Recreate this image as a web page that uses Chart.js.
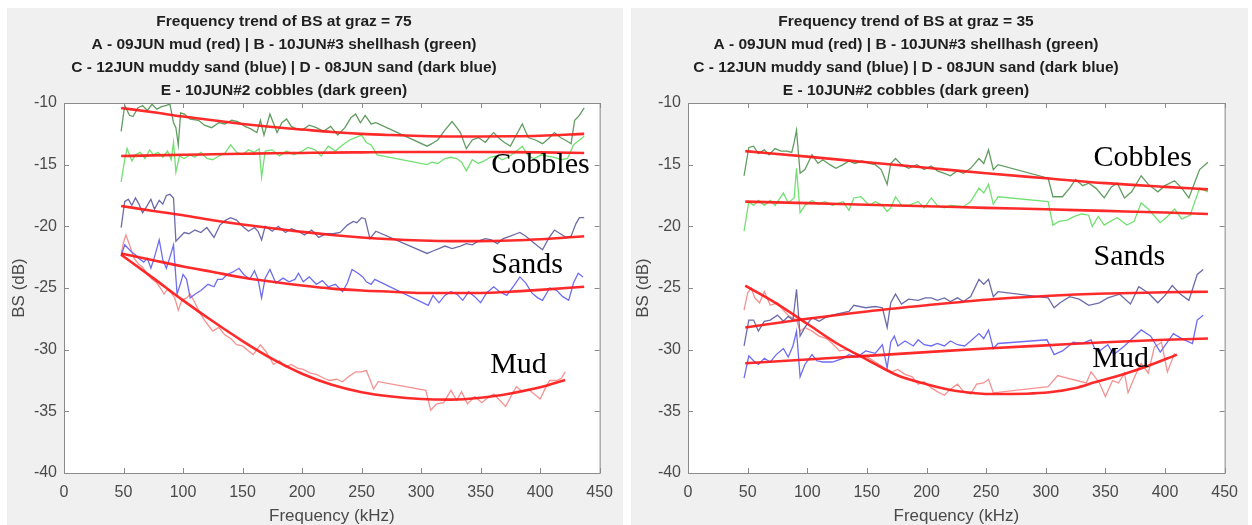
<!DOCTYPE html>
<html>
<head>
<meta charset="utf-8">
<script src="https://cdn.jsdelivr.net/npm/chart.js@4.4.1/dist/chart.umd.min.js"></script>
<style>
  body { margin: 0; background: #fff; width: 1252px; height: 525px; position: relative; overflow: hidden; }
  canvas { position: absolute; top: 8px; }
  #chart75 { left: 7px; }
  #chart35 { left: 631px; }
</style>
</head>
<body>
<canvas id="chart75" width="616" height="517"></canvas>
<canvas id="chart35" width="617" height="517"></canvas>
<script>
// ---- graz = 75 : measured BS (dB) vs frequency (kHz) ----
const f75_E = [48,51,55,58,62,66,70,74,78,82,86,89,92,94,96,98,101,106,113,118,124,130,135,141,146,152,157,162,165,168,173,179,183,187,191,195,200,206,212,218,224,230,236,241,245,249,253,258,262,305,309,314,320,326,330,333,338,343,348,354,358,361,366,370,375,380,385,390,396,402,407,412,417,421,426,429,433,437];
const bs75_E = [-12.3,-10.2,-11.0,-11.1,-10.4,-10.2,-10.6,-10.1,-10.5,-10.3,-10.2,-10.1,-11.6,-12.0,-13.4,-10.8,-10.9,-11.3,-11.4,-11.8,-12.0,-11.6,-11.7,-11.4,-11.5,-11.9,-12.1,-12.4,-11.4,-12.6,-10.9,-12.4,-11.6,-11.3,-11.9,-12.1,-12.2,-11.8,-12.0,-12.3,-11.9,-12.6,-12.0,-11.2,-10.9,-11.6,-11.0,-11.7,-11.6,-13.5,-13.3,-13.0,-12.2,-11.5,-12.0,-12.4,-13.7,-13.0,-12.8,-13.2,-12.7,-12.4,-12.9,-13.2,-13.5,-12.6,-11.7,-12.8,-13.0,-13.3,-12.9,-12.4,-12.8,-13.0,-13.3,-11.4,-11.0,-10.4];

const f75_B = [48,51,53,57,60,64,68,72,75,79,83,87,90,92,94,97,101,106,110,115,120,125,130,135,140,145,150,155,160,164,166,169,175,181,187,193,200,205,211,216,222,228,234,240,245,250,254,258,263,305,309,314,320,325,330,334,338,343,348,353,358,363,368,373,379,385,390,395,401,406,412,418,423,428,433,437];
const bs75_B = [-16.4,-14.6,-13.7,-14.7,-14.2,-14.0,-14.5,-13.8,-14.2,-14.0,-14.4,-13.9,-14.6,-13.2,-15.6,-14.3,-14.5,-14.2,-14.4,-14.0,-14.5,-14.6,-14.3,-14.1,-13.4,-14.0,-14.2,-13.8,-14.0,-13.7,-16.0,-13.9,-13.8,-14.3,-13.9,-14.2,-13.9,-13.6,-13.8,-14.3,-13.5,-13.9,-13.4,-13.0,-12.8,-12.6,-13.2,-13.4,-14.2,-15.0,-14.8,-14.9,-14.5,-14.4,-14.5,-14.8,-15.5,-14.6,-14.9,-14.7,-14.4,-14.3,-14.6,-14.4,-14.0,-13.5,-14.3,-14.5,-14.2,-14.3,-14.4,-14.6,-14.5,-13.4,-13.0,-12.7];

const f75_D = [48,51,54,57,60,63,66,70,73,76,80,83,86,89,92,94,97,101,105,110,115,120,126,131,136,140,145,150,155,160,163,166,169,175,180,186,191,197,202,208,214,220,226,232,238,243,246,250,253,257,262,305,310,315,320,326,333,338,343,348,354,359,364,369,375,380,383,388,393,398,402,407,412,417,422,426,430,433,437];
const bs75_D = [-20.1,-18.0,-17.8,-18.3,-17.7,-18.2,-18.9,-18.3,-17.8,-18.6,-17.9,-18.2,-17.5,-17.4,-17.7,-21.2,-20.9,-20.5,-20.6,-20.3,-20.5,-20.1,-20.9,-19.9,-19.5,-19.3,-19.5,-20.0,-20.4,-20.1,-20.4,-21.1,-20.0,-20.4,-20.0,-20.5,-20.2,-20.4,-20.7,-20.3,-20.9,-20.6,-20.6,-20.5,-19.9,-19.6,-19.7,-19.3,-19.4,-21.0,-20.4,-22.2,-22.0,-21.8,-21.6,-21.8,-21.6,-21.4,-21.5,-21.2,-21.0,-21.1,-21.4,-21.0,-20.8,-20.6,-20.5,-20.8,-21.2,-21.6,-21.9,-21.0,-20.3,-20.6,-20.9,-20.8,-19.8,-19.3,-19.3];

const f75_C = [48,51,54,57,60,63,67,70,73,76,80,83,86,89,92,95,98,100,103,106,110,115,121,126,129,133,137,142,147,151,156,160,163,166,169,173,178,184,189,194,197,201,206,212,217,222,228,234,238,242,247,251,254,258,261,306,310,315,320,325,330,335,340,345,350,355,361,366,372,378,383,388,393,398,402,408,414,419,424,428,432,436];
const bs75_C = [-22.4,-21.5,-21.8,-22.1,-22.3,-22.6,-22.9,-22.6,-23.4,-22.5,-21.1,-22.7,-23.4,-22.5,-21.5,-25.5,-24.6,-23.9,-24.3,-25.8,-25.5,-25.2,-24.7,-24.9,-24.3,-24.3,-23.9,-23.7,-23.4,-23.9,-24.3,-23.6,-24.3,-25.8,-24.2,-23.5,-24.6,-24.2,-24.5,-24.3,-23.8,-24.5,-24.1,-24.7,-24.4,-24.9,-24.7,-25.3,-24.6,-23.5,-23.8,-24.1,-24.5,-24.7,-24.3,-26.4,-25.6,-26.2,-25.6,-25.3,-25.5,-26.0,-25.3,-25.7,-26.2,-25.4,-24.9,-25.3,-25.6,-24.8,-24.1,-24.6,-25.4,-25.8,-26.0,-25.0,-25.2,-25.7,-26.0,-24.6,-23.8,-24.1];

const f75_A = [48,50,52,55,59,63,66,70,74,78,81,84,87,90,93,96,99,103,106,110,114,118,121,125,130,135,140,145,150,155,159,165,170,176,181,186,191,196,201,207,212,218,223,229,234,239,245,250,254,257,260,264,304,308,313,319,325,330,334,339,345,351,356,361,366,371,376,380,385,390,395,400,404,408,414,418,421];
const bs75_A = [-22.3,-21.3,-20.7,-21.5,-22.6,-23.1,-23.3,-23.9,-24.3,-24.6,-25.0,-25.5,-25.1,-25.4,-25.8,-26.8,-26.0,-25.8,-25.5,-26.2,-27.0,-27.6,-28.0,-28.5,-28.2,-28.8,-29.1,-29.6,-29.7,-30.1,-30.4,-29.6,-30.2,-31.2,-30.9,-31.4,-31.2,-31.5,-31.6,-31.9,-32.0,-32.3,-32.5,-32.4,-32.6,-32.2,-31.8,-31.8,-31.7,-32.4,-33.2,-32.6,-33.3,-34.9,-34.4,-34.3,-33.3,-34.1,-33.4,-34.4,-33.8,-34.3,-33.9,-33.6,-34.1,-34.6,-33.7,-33.0,-33.4,-33.2,-33.6,-34.0,-33.2,-32.5,-32.5,-32.3,-31.8];

// fitted trends, graz = 75
const fitF75 = [48,75,100,125,150,175,200,225,250,275,300,325,350,375,400,437];
const fit75_E = [-10.4,-10.75,-11.1,-11.4,-11.7,-11.95,-12.15,-12.35,-12.5,-12.6,-12.68,-12.72,-12.72,-12.7,-12.65,-12.5];
const fit75_B = [-14.3,-14.25,-14.2,-14.16,-14.12,-14.08,-14.05,-14.02,-14.0,-13.98,-13.97,-13.97,-13.97,-13.98,-14.0,-14.05];
const fit75_D = [-18.35,-18.75,-19.1,-19.5,-19.85,-20.15,-20.45,-20.7,-20.9,-21.05,-21.15,-21.2,-21.2,-21.15,-21.05,-20.8];
const fit75_C = [-22.2,-22.75,-23.25,-23.7,-24.15,-24.5,-24.8,-25.05,-25.2,-25.3,-25.4,-25.4,-25.4,-25.3,-25.15,-24.9];
const fitF75_A = [48,75,100,125,150,175,200,225,250,275,300,325,350,375,400,421];
const fit75_A = [-22.3,-24.2,-26.0,-27.7,-29.3,-30.75,-31.95,-32.85,-33.45,-33.8,-34.0,-34.05,-33.9,-33.55,-33.05,-32.45];

// ---- graz = 35 ----
const f35_E = [47,51,55,59,64,68,73,78,83,87,89,91,94,98,104,109,113,119,124,130,135,140,146,152,157,162,167,170,174,179,185,192,198,204,209,215,220,226,231,237,244,248,252,256,260,302,306,314,320,325,331,336,342,349,355,360,366,372,380,386,394,400,408,414,420,429,436];
const bs35_E = [-15.9,-13.6,-13.5,-14.1,-13.8,-14.2,-13.7,-13.9,-13.9,-14.0,-13.2,-12.2,-15.7,-15.4,-14.2,-14.9,-14.6,-15.0,-15.3,-15.0,-14.7,-14.9,-14.7,-14.9,-15.0,-15.4,-16.6,-14.9,-14.5,-15.0,-15.3,-15.0,-15.4,-15.1,-15.5,-15.7,-15.9,-15.5,-15.7,-15.3,-14.5,-14.9,-13.8,-15.4,-15.0,-16.1,-17.6,-17.6,-16.9,-16.2,-16.7,-16.5,-16.9,-17.7,-16.8,-16.5,-17.7,-17.2,-15.9,-16.6,-17.2,-16.7,-16.3,-16.9,-17.7,-15.4,-14.8];

const f35_B = [47,51,55,59,64,69,73,80,84,89,91,94,98,104,109,115,121,130,135,139,145,152,157,163,167,170,174,179,185,193,198,204,209,215,220,231,237,244,248,252,256,260,302,306,311,318,324,330,336,339,344,349,354,360,368,374,380,386,396,402,408,414,421,429,436];
const bs35_B = [-20.4,-18.0,-18.3,-17.9,-18.3,-17.9,-18.3,-17.3,-18.1,-17.7,-15.3,-18.9,-18.3,-17.9,-18.2,-18.0,-18.3,-18.0,-18.7,-17.7,-17.6,-18.3,-18.0,-18.3,-18.8,-18.5,-17.6,-18.3,-18.3,-18.0,-18.5,-17.7,-18.3,-18.5,-18.3,-18.4,-18.0,-16.9,-17.3,-16.6,-18.2,-17.6,-18.0,-19.9,-19.6,-19.5,-19.2,-19.0,-19.1,-20.0,-19.2,-19.9,-19.6,-19.3,-19.9,-19.6,-18.1,-18.6,-19.7,-19.2,-18.6,-19.4,-19.1,-16.9,-17.2];

const f35_D = [47,51,55,59,64,69,75,80,84,88,91,94,98,104,110,115,121,130,135,139,149,157,163,167,170,174,179,185,193,199,204,209,215,220,226,231,237,244,248,252,256,260,302,307,312,320,328,336,345,352,362,371,378,386,394,400,406,413,420,427,432];
const bs35_D = [-29.7,-27.6,-27.6,-28.5,-27.7,-27.6,-27.2,-27.7,-27.3,-27.6,-25.1,-28.9,-28.2,-27.4,-27.7,-27.4,-27.2,-27.0,-26.9,-26.4,-26.6,-26.5,-26.6,-28.2,-26.2,-25.5,-26.3,-25.9,-26.0,-25.8,-25.8,-26.0,-25.8,-26.1,-25.8,-26.1,-25.7,-24.3,-24.7,-24.3,-25.7,-25.3,-25.8,-26.6,-26.2,-25.7,-25.9,-26.4,-26.2,-25.8,-25.5,-26.3,-24.9,-25.4,-26.2,-25.6,-24.8,-25.5,-26.0,-23.9,-23.5];

const f35_C = [47,51,55,59,64,69,74,80,84,88,91,94,98,104,108,113,121,130,135,142,149,157,163,167,170,173,176,182,189,193,198,204,209,215,220,226,232,237,244,248,252,256,260,301,307,314,323,330,338,341,345,352,357,366,380,388,396,407,414,423,427,432];
const bs35_C = [-32.3,-30.5,-30.9,-31.2,-30.7,-31.0,-30.4,-29.9,-30.6,-29.7,-28.5,-32.2,-31.2,-30.4,-30.9,-31.0,-31.0,-30.7,-30.4,-30.6,-30.1,-30.3,-29.6,-31.5,-29.4,-28.9,-29.7,-29.3,-29.7,-29.2,-29.6,-29.7,-29.5,-29.7,-29.3,-29.6,-29.7,-29.3,-28.7,-29.1,-28.4,-29.9,-29.5,-29.2,-30.4,-30.1,-29.4,-29.5,-29.2,-29.9,-30.1,-29.6,-30.4,-29.7,-28.4,-28.9,-30.2,-28.7,-29.1,-29.5,-27.6,-27.2];

const f35_A = [47,50,53,56,60,64,69,75,80,85,91,94,98,104,110,116,121,127,134,139,143,149,157,165,171,176,182,188,193,198,204,209,215,220,226,231,237,242,248,252,256,302,310,318,326,334,338,345,350,356,361,366,369,375,380,386,391,397,402,408];
const bs35_A = [-26.8,-25.4,-25.0,-25.8,-26.2,-25.3,-26.4,-26.2,-26.8,-27.3,-27.6,-28.5,-28.2,-28.5,-28.9,-29.1,-29.5,-30.1,-30.0,-30.3,-30.4,-30.5,-31.0,-31.5,-31.8,-31.6,-32.0,-32.2,-32.8,-32.6,-33.1,-33.4,-33.7,-33.2,-32.8,-33.4,-33.6,-32.8,-32.7,-32.4,-33.5,-33.0,-32.1,-32.3,-32.5,-32.7,-31.8,-32.7,-33.8,-32.5,-32.7,-31.9,-33.5,-32.1,-31.1,-31.9,-29.8,-29.4,-31.8,-30.3];

// fitted trends, graz = 35
const fitF35 = [48,100,150,200,250,300,350,400,436];
const fit35_E = [-13.9,-14.35,-14.8,-15.25,-15.7,-16.1,-16.5,-16.8,-17.0];
const fit35_B = [-18.0,-18.12,-18.25,-18.37,-18.5,-18.62,-18.75,-18.88,-19.0];
const fit35_D = [-28.2,-27.5,-26.9,-26.4,-25.95,-25.65,-25.45,-25.35,-25.3];
const fit35_C = [-31.1,-30.8,-30.5,-30.2,-29.9,-29.65,-29.4,-29.2,-29.1];
const fitF35_A = [48,75,100,125,150,175,200,225,257,303,325,341,365,385,410];
const fit35_A = [-24.8,-26.3,-27.9,-29.5,-30.8,-32.05,-32.8,-33.35,-33.6,-33.45,-33.1,-32.65,-32.0,-31.35,-30.4];

const titleLines = (graz) => [
  'Frequency trend of BS at graz = ' + graz,
  'A - 09JUN mud (red) | B - 10JUN#3 shellhash (green)',
  'C - 12JUN muddy sand (blue) | D - 08JUN sand (dark blue)',
  'E - 10JUN#2 cobbles (dark green)'
];

const COL = {
  A: 'rgba(240,110,110,0.75)',
  B: '#72e072',
  C: '#6d6df2',
  D: '#6c6cab',
  E: '#619c61',
  fit: 'rgba(255,20,20,0.9)'
};

function pts(freq, bs) {
  return freq.map((f, i) => ({ x: f, y: bs[i] }));
}

function raw(freq, bs, color) {
  return { data: pts(freq, bs), borderColor: color, borderWidth: 1.3, pointRadius: 0, tension: 0, order: 2 };
}
function fit(freq, bs) {
  return { data: pts(freq, bs), borderColor: COL.fit, borderWidth: 2.6, pointRadius: 0, cubicInterpolationMode: 'monotone', order: 1 };
}

// grey figure, white axes, boxed axes with inward ticks, title block and the sediment labels
const matlabAxes = {
  id: 'matlabAxes',
  beforeDraw(chart, args, opts) {
    const ctx = chart.ctx, a = chart.chartArea;
    ctx.save();
    ctx.fillStyle = '#f0f0f0';
    ctx.fillRect(0, 0, chart.width, chart.height);
    ctx.fillStyle = '#ffffff';
    ctx.fillRect(a.left, a.top, a.right - a.left, a.bottom - a.top);

    // title, centred a little left of the axes like the original figure
    ctx.fillStyle = '#1f1f1f';
    ctx.font = 'bold 15.5px "Liberation Sans", Arial, sans-serif';
    ctx.textAlign = 'center';
    ctx.textBaseline = 'middle';
    (opts.title || []).forEach((line, i) => {
      ctx.fillText(line, opts.titleX, 14 + i * 22.9);
    });
    ctx.restore();
  },
  afterDatasetsDraw(chart, args, opts) {
    const ctx = chart.ctx, a = chart.chartArea;
    const xs = chart.scales.x, ys = chart.scales.y;
    ctx.save();
    ctx.strokeStyle = '#8a8a8a';
    ctx.lineWidth = 1;
    ctx.strokeRect(a.left + 0.5, a.top + 0.5, a.right - a.left, a.bottom - a.top);
    ctx.beginPath();
    xs.ticks.forEach(t => {
      const px = Math.round(xs.getPixelForValue(t.value)) + 0.5;
      ctx.moveTo(px, a.bottom); ctx.lineTo(px, a.bottom - 5);
      ctx.moveTo(px, a.top); ctx.lineTo(px, a.top + 5);
    });
    ys.ticks.forEach(t => {
      const py = Math.round(ys.getPixelForValue(t.value)) + 0.5;
      ctx.moveTo(a.left, py); ctx.lineTo(a.left + 5, py);
      ctx.moveTo(a.right, py); ctx.lineTo(a.right - 5, py);
    });
    ctx.stroke();

    ctx.fillStyle = '#000';
    ctx.font = '30px "Liberation Serif", "Times New Roman", serif';
    ctx.textBaseline = 'alphabetic';
    ctx.textAlign = 'left';
    (opts.labels || []).forEach(l => {
      ctx.fillText(l.text, xs.getPixelForValue(l.x), ys.getPixelForValue(l.y));
    });
    ctx.restore();
  }
};

function makeChart(id, graz, datasets, labels, titleX) {
  return new Chart(document.getElementById(id), {
    type: 'line',
    data: { datasets },
    plugins: [matlabAxes],
    options: {
      responsive: false,
      animation: false,
      events: [],
      layout: { padding: { left: 0, right: 15, top: 95, bottom: 0 } },
      plugins: {
        legend: { display: false },
        tooltip: { enabled: false },
        title: { display: false },
        matlabAxes: { labels, title: titleLines(graz), titleX }
      },
      scales: {
        x: {
          type: 'linear', min: 0, max: 450,
          grid: { display: false, drawTicks: false },
          border: { display: false },
          ticks: { stepSize: 50, padding: 10, color: '#4a4a4a', font: { family: 'Liberation Sans', size: 16 } },
          title: { display: true, text: 'Frequency (kHz)', color: '#4a4a4a', padding: 0,
                   font: { family: 'Liberation Sans', size: 17, lineHeight: 1.0 } },
          afterFit: s => { s.height = 52; }
        },
        y: {
          min: -40, max: -10,
          grid: { display: false, drawTicks: false },
          border: { display: false },
          ticks: { stepSize: 5, padding: 7, color: '#4a4a4a', font: { family: 'Liberation Sans', size: 16 } },
          title: { display: true, text: 'BS (dB)', color: '#4a4a4a', padding: { top: 2, bottom: 0 },
                   font: { family: 'Liberation Sans', size: 17, lineHeight: 1.2 } },
          afterFit: s => { s.width = 57; }
        }
      }
    }
  });
}

makeChart('chart75', 75, [
  fit(fitF75, fit75_E), fit(fitF75, fit75_B), fit(fitF75, fit75_D), fit(fitF75, fit75_C), fit(fitF75_A, fit75_A),
  raw(f75_E, bs75_E, COL.E), raw(f75_B, bs75_B, COL.B), raw(f75_D, bs75_D, COL.D),
  raw(f75_C, bs75_C, COL.C), raw(f75_A, bs75_A, COL.A)
], [
  { text: 'Cobbles', x: 359, y: -15.65 },
  { text: 'Sands', x: 359, y: -23.76 },
  { text: 'Mud', x: 358, y: -31.87 }
], 277);

makeChart('chart35', 35, [
  fit(fitF35, fit35_E), fit(fitF35, fit35_B), fit(fitF35, fit35_D), fit(fitF35, fit35_C), fit(fitF35_A, fit35_A),
  raw(f35_E, bs35_E, COL.E), raw(f35_B, bs35_B, COL.B), raw(f35_D, bs35_D, COL.D),
  raw(f35_C, bs35_C, COL.C), raw(f35_A, bs35_A, COL.A)
], [
  { text: 'Cobbles', x: 340, y: -15.1 },
  { text: 'Sands', x: 340, y: -23.1 },
  { text: 'Mud', x: 339, y: -31.4 }
], 275);
</script>
</body>
</html>
